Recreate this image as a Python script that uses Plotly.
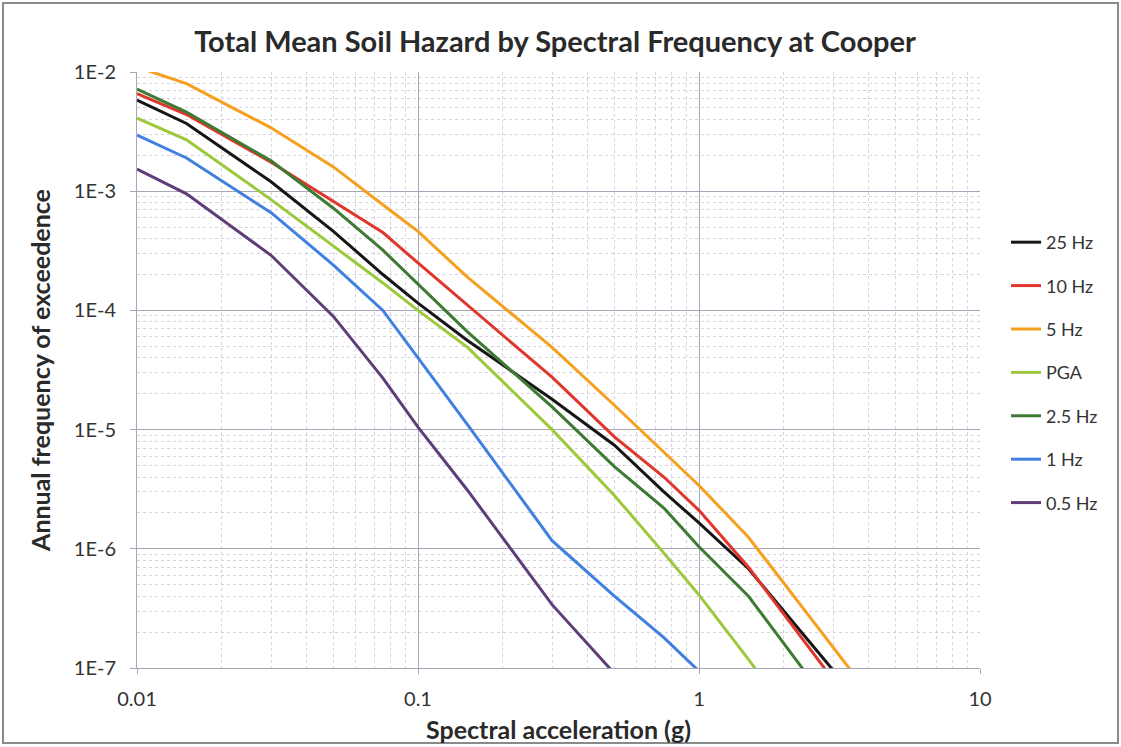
import plotly.graph_objects as go

# Spectral acceleration (g)
sa = [0.01, 0.015, 0.03, 0.05, 0.075, 0.1, 0.15, 0.3, 0.5, 0.75, 1, 1.5, 3, 5, 7.5, 10]

hz25 = [5.8e-3, 3.7e-3, 1.2e-3, 4.6e-4, 2.0e-4, 1.15e-4, 5.6e-5, 1.8e-5, 7.4e-6, 3.0e-6, 1.65e-6, 6.8e-7, 9.6e-8, 2.0e-8, 6e-9, 2.5e-9]
hz10 = [6.6e-3, 4.4e-3, 1.75e-3, 8.2e-4, 4.5e-4, 2.5e-4, 1.1e-4, 2.75e-5, 8.7e-6, 4.0e-6, 2.1e-6, 7.0e-7, 8.0e-8, 1.6e-8, 5e-9, 2e-9]
hz5 = [1.1e-2, 8.0e-3, 3.4e-3, 1.6e-3, 7.7e-4, 4.6e-4, 1.9e-4, 4.9e-5, 1.6e-5, 6.5e-6, 3.4e-6, 1.25e-6, 1.5e-7, 3.0e-8, 9e-9, 4e-9]
pga = [4.1e-3, 2.7e-3, 8.5e-4, 3.5e-4, 1.7e-4, 1.0e-4, 4.9e-5, 1.0e-5, 2.8e-6, 9.2e-7, 4.1e-7, 1.18e-7, 1.3e-8, 2.5e-9, 8e-10, 3e-10]
hz2_5 = [7.2e-3, 4.6e-3, 1.8e-3, 7.2e-4, 3.2e-4, 1.65e-4, 6.6e-5, 1.55e-5, 4.9e-6, 2.2e-6, 1.04e-6, 4.0e-7, 4.5e-8, 8e-9, 2.5e-9, 1e-9]
hz1 = [2.95e-3, 1.9e-3, 6.6e-4, 2.4e-4, 1.0e-4, 4.0e-5, 1.1e-5, 1.17e-6, 4.0e-7, 1.8e-7, 9.4e-8, 3e-8, 4e-9, 1e-9, 3e-10, 1e-10]
hz0_5 = [1.53e-3, 9.5e-4, 2.9e-4, 8.9e-5, 2.7e-5, 1.05e-5, 3.1e-6, 3.4e-7, 9.0e-8, 3e-8, 1.2e-8, 3e-9, 3e-10, 5e-11, 1e-11, 5e-12]

names = ["25 Hz", "10 Hz", "5 Hz", "PGA", "2.5 Hz", "1 Hz", "0.5 Hz"]
series = [hz25, hz10, hz5, pga, hz2_5, hz1, hz0_5]
colors = ["#161616", "#e0362c", "#f5a01e", "#9cc83c", "#3d7a32", "#3f80e0", "#5e3d78"]

y_tickvals = [1e-7, 1e-6, 1e-5, 1e-4, 1e-3, 1e-2]
y_ticktext = ["1E-7", "1E-6", "1E-5", "1E-4", "1E-3", "1E-2"]
x_tickvals = [0.01, 0.1, 1, 10]
x_ticktext = ["0.01", "0.1", "1", "10"]

FONT = "Lato"

fig = go.Figure()
for i, (n, s, c) in enumerate(zip(names, series, colors)):
    fig.add_trace(go.Scatter(x=sa, y=s, name=n, mode="lines",
                             line=dict(color=c, width=3),
                             legendgroup=f"g{i}"))

W, H = 1121, 747
L, R, T, B = 137, 141, 72, 79
pw, ph = W - L - R, H - T - B

fig.update_layout(
    width=W, height=H,
    margin=dict(l=L, r=R, t=T, b=B, autoexpand=False),
    paper_bgcolor="white", plot_bgcolor="white",
    font=dict(family=FONT, color="#333333"),
    title=dict(text="<b>Total Mean Soil Hazard by Spectral Frequency at Cooper</b>",
               x=555 / W, xanchor="center", y=1 - 42 / H, yanchor="middle",
               font=dict(size=29, family=FONT, color="#2a2a2a")),
    legend=dict(x=1 + 26 / pw, xanchor="left", y=0.745, yanchor="top",
                font=dict(size=18, family=FONT, color="#333333"),
                tracegroupgap=17, traceorder="grouped",
                bgcolor="rgba(0,0,0,0)"),
    showlegend=True,
)

grid_major = "#a7a7b8"
grid_minor = "#d4d4de"

fig.update_xaxes(type="log", range=[-2, 1], automargin=False,
                 tickvals=x_tickvals, ticktext=x_ticktext,
                 tickfont=dict(size=20, family=FONT, color="#333333"),
                 ticks="outside", ticklen=5, tickcolor=grid_major,
                 ticklabelstandoff=8,
                 showgrid=True, gridcolor=grid_major, gridwidth=1,
                 minor=dict(dtick="D1", showgrid=True, gridcolor=grid_minor, griddash="dot", ticks=""),
                 showline=True, linecolor=grid_major, linewidth=1, mirror=False,
                 title=dict(text="<b>Spectral acceleration (g)</b>", standoff=12,
                            font=dict(size=25, family=FONT, color="#2a2a2a")),
                 zeroline=False)
fig.update_yaxes(type="log", range=[-7, -2], automargin=False,
                 tickvals=y_tickvals, ticktext=y_ticktext,
                 tickfont=dict(size=20, family=FONT, color="#333333"),
                 ticks="outside", ticklen=6, tickcolor=grid_major,
                 ticklabelstandoff=10,
                 showgrid=True, gridcolor=grid_major, gridwidth=1,
                 minor=dict(dtick="D1", showgrid=True, gridcolor=grid_minor, griddash="dot", ticks=""),
                 showline=True, linecolor=grid_major, linewidth=1,
                 title=dict(text="<b>Annual frequency of exceedence</b>", standoff=16,
                            font=dict(size=25, family=FONT, color="#2a2a2a")),
                 zeroline=False)

# outer chart border
fig.add_shape(type="rect", xref="paper", yref="paper",
              x0=(3 - L) / pw, x1=(W - 3 - L) / pw,
              y0=1 - (H - 4 - T) / ph, y1=1 - (3 - T) / ph,
              line=dict(color="#8a8a8a", width=2), fillcolor="rgba(0,0,0,0)", layer="below")

fig.write_html("out.html")
